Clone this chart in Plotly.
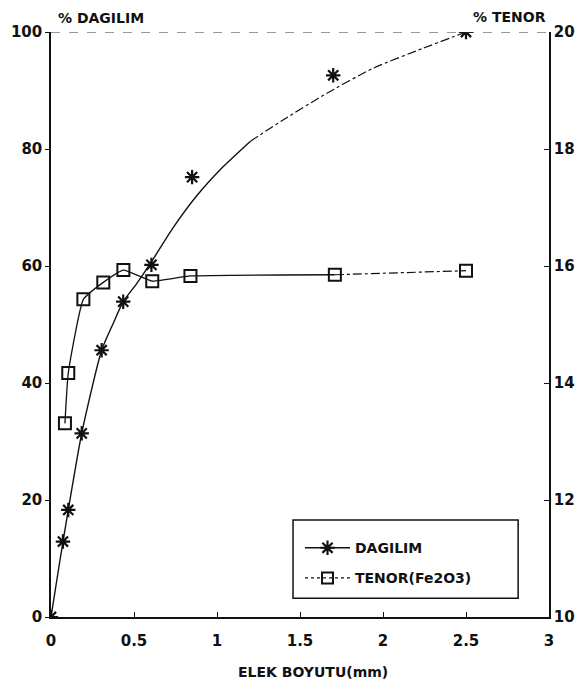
import plotly.graph_objects as go

# Sieve size (mm) and cumulative distribution (%)
dag_x = [0, 0.072, 0.104, 0.185, 0.305, 0.435, 0.605, 0.85, 1.7, 2.5]
dag_y = [0, 12.9, 18.3, 31.4, 45.6, 53.9, 60.2, 75.2, 92.6, 100]

# Smoothed distribution curve (solid part, then dash-dot part)
fit_x_solid = [0, 0.054, 0.104, 0.185, 0.305, 0.375, 0.435, 0.516, 0.60, 0.737, 0.878, 1.038, 1.2]
fit_y_solid = [0, 9.7, 18.3, 31.4, 45.6, 50.2, 53.9, 57.0, 60.5, 66.6, 72.0, 77.0, 81.3]
fit_x_dash = [1.2, 1.40, 1.66, 1.94, 2.24, 2.5]
fit_y_dash = [81.3, 85.0, 89.5, 93.8, 97.2, 100]

# Fe2O3 grade (%) per sieve size
ten_x = [0.084, 0.104, 0.195, 0.315, 0.436, 0.61, 0.84, 1.71, 2.5]
ten_y = [13.31, 14.17, 15.43, 15.72, 15.93, 15.74, 15.83, 15.85, 15.92]

x_ticks = [0, 0.5, 1, 1.5, 2, 2.5, 3]
x_tick_text = ["0", "0.5", "1", "1.5", "2", "2.5", "3"]
y_ticks = [0, 20, 40, 60, 80, 100]
y2_ticks = [10, 12, 14, 16, 18, 20]

FONT = "DejaVu Sans"
INK = "#111111"

fig = go.Figure()

fig.add_trace(go.Scatter(x=fit_x_solid, y=fit_y_solid, mode="lines",
                         line=dict(color=INK, width=1.4, shape="spline", smoothing=0.6),
                         showlegend=False, hoverinfo="skip"))
fig.add_trace(go.Scatter(x=fit_x_dash, y=fit_y_dash, mode="lines",
                         line=dict(color=INK, width=1.2, shape="spline", smoothing=0.6, dash="dashdot"),
                         showlegend=False, hoverinfo="skip"))
fig.add_trace(go.Scatter(x=dag_x, y=dag_y, mode="markers",
                         marker=dict(symbol="asterisk-open", size=12, color=INK, line=dict(color=INK, width=2.2)),
                         showlegend=False))

n_solid = 8
fig.add_trace(go.Scatter(x=ten_x[:n_solid], y=ten_y[:n_solid], mode="lines",
                         line=dict(color=INK, width=1.3, shape="spline", smoothing=0.4), yaxis="y2",
                         showlegend=False, hoverinfo="skip"))
fig.add_trace(go.Scatter(x=ten_x[n_solid - 1:], y=ten_y[n_solid - 1:], mode="lines",
                         line=dict(color=INK, width=1.2, dash="dashdot"), yaxis="y2",
                         showlegend=False, hoverinfo="skip"))
fig.add_trace(go.Scatter(x=ten_x, y=ten_y, mode="markers", yaxis="y2",
                         marker=dict(symbol="square-open", size=12, color=INK, line=dict(color=INK, width=2)),
                         showlegend=False))

# Legend entries
fig.add_trace(go.Scatter(x=[None], y=[None], mode="lines+markers", name="DAGILIM", legendgroup="a",
                         line=dict(color=INK, width=1.4),
                         marker=dict(symbol="asterisk-open", size=12, color=INK, line=dict(color=INK, width=2.2))))
fig.add_trace(go.Scatter(x=[None], y=[None], mode="lines+markers", name="TENOR(Fe2O3)", legendgroup="b",
                         line=dict(color=INK, width=1.2, dash="dot"),
                         marker=dict(symbol="square-open", size=11, color=INK, line=dict(color=INK, width=2))))

# Dashed top frame
fig.add_shape(type="line", xref="x", yref="y", x0=0, x1=3, y0=100, y1=100,
              line=dict(color="#333333", width=1, dash="dash"))

# Legend frame
fig.add_shape(type="rect", xref="paper", yref="paper", x0=0.486, x1=0.938, y0=0.032, y1=0.166,
              line=dict(color=INK, width=1.5), fillcolor="white", layer="below")

fig.update_layout(
    width=582, height=686,
    margin=dict(l=51, r=33, t=32, b=69),
    paper_bgcolor="white", plot_bgcolor="white",
    font=dict(family=FONT, color=INK, size=13),
    xaxis=dict(range=[0, 3], tickvals=x_ticks, ticktext=x_tick_text, showgrid=False, zeroline=False,
               showline=True, linecolor=INK, linewidth=1.5, ticks="inside", ticklen=5, tickcolor=INK,
               ticklabelstandoff=9, automargin=False,
               tickfont=dict(family=FONT, size=15, weight="bold")),
    yaxis=dict(range=[0, 100], tickvals=y_ticks, showgrid=False, zeroline=False, automargin=False,
               showline=True, linecolor=INK, linewidth=1.5, ticks="outside", ticklen=4, tickcolor=INK,
               tickfont=dict(family=FONT, size=15, weight="bold")),
    yaxis2=dict(range=[10, 20], tickvals=y2_ticks, overlaying="y", side="right", showgrid=False,
                zeroline=False, showline=True, linecolor=INK, linewidth=1.5, ticks="inside", ticklen=5,
                automargin=False, tickcolor=INK, tickfont=dict(family=FONT, size=15, weight="bold")),
    legend=dict(x=0.50, y=0.145, xanchor="left", yanchor="top", bgcolor="rgba(0,0,0,0)",
                borderwidth=0, font=dict(family=FONT, size=14, weight="bold"),
                itemwidth=45, tracegroupgap=9, traceorder="grouped"),
    showlegend=True,
)

fig.add_annotation(text="% DAGILIM", xref="paper", yref="paper", x=0.10, y=1.0, yshift=24,
                   xanchor="center", showarrow=False, font=dict(family=FONT, size=14, weight="bold"))
fig.add_annotation(text="% TENOR", xref="paper", yref="paper", x=0.92, y=1.0, yshift=25,
                   xanchor="center", showarrow=False, font=dict(family=FONT, size=14, weight="bold"))
fig.add_annotation(text="ELEK BOYUTU(mm)", xref="paper", yref="paper", x=0.526, y=0, yshift=-55,
                   xanchor="center", yanchor="middle", showarrow=False,
                   font=dict(family=FONT, size=14, weight="bold"))

fig.write_html("out.html")
